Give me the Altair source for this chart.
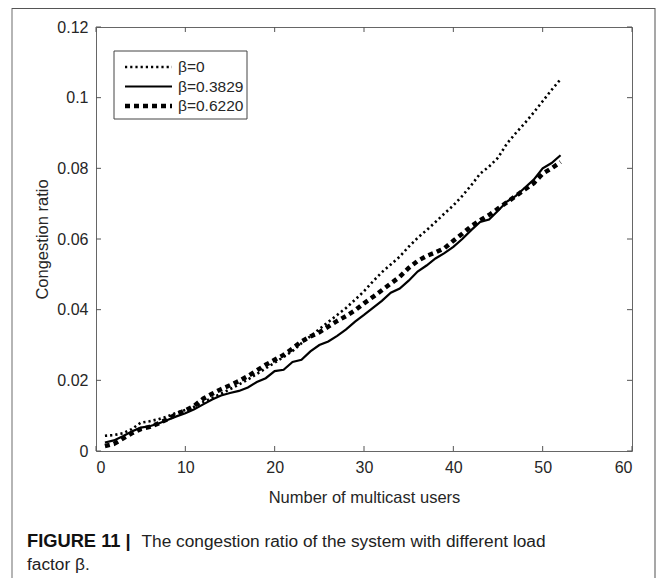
import altair as alt
import pandas as pd

# ---------------- data ----------------
users = list(range(1, 53))

beta_0 = [0.0043, 0.0045, 0.0050, 0.0062, 0.0080, 0.0084, 0.0090, 0.0098, 0.0108, 0.0116,
          0.0125, 0.0138, 0.0150, 0.0162, 0.0175, 0.0188, 0.0202, 0.0218, 0.0234, 0.0250,
          0.0266, 0.0283, 0.0305, 0.0325, 0.0345, 0.0365, 0.0385, 0.0405, 0.0428, 0.0452,
          0.0480, 0.0506, 0.0528, 0.0550, 0.0578, 0.0603, 0.0625, 0.0648, 0.0672, 0.0695,
          0.0722, 0.0752, 0.0785, 0.0805, 0.0830, 0.0870, 0.0900, 0.0928, 0.0958, 0.0990,
          0.1022, 0.1052]

beta_03829 = [0.0024, 0.0030, 0.0042, 0.0055, 0.0066, 0.0070, 0.0078, 0.0088, 0.0098, 0.0107,
              0.0118, 0.0132, 0.0146, 0.0157, 0.0164, 0.0170, 0.0180, 0.0195, 0.0206, 0.0226,
              0.0230, 0.0252, 0.0258, 0.0282, 0.0300, 0.0310, 0.0326, 0.0344, 0.0366, 0.0385,
              0.0405, 0.0425, 0.0448, 0.0460, 0.0482, 0.0508, 0.0525, 0.0545, 0.0560, 0.0578,
              0.0600, 0.0625, 0.0648, 0.0655, 0.0680, 0.0706, 0.0722, 0.0745, 0.0768, 0.0800,
              0.0815, 0.0837]

beta_06220 = [0.0014, 0.0020, 0.0035, 0.0050, 0.0062, 0.0068, 0.0078, 0.0090, 0.0104, 0.0115,
              0.0128, 0.0148, 0.0162, 0.0175, 0.0186, 0.0198, 0.0212, 0.0228, 0.0244, 0.0258,
              0.0272, 0.0290, 0.0310, 0.0324, 0.0336, 0.0352, 0.0368, 0.0382, 0.0398, 0.0418,
              0.0436, 0.0455, 0.0474, 0.0493, 0.0518, 0.0538, 0.0552, 0.0562, 0.0574, 0.0595,
              0.0615, 0.0636, 0.0653, 0.0668, 0.0686, 0.0704, 0.0722, 0.0740, 0.0758, 0.0785,
              0.0800, 0.0818]

series_names = ["β=0", "β=0.3829", "β=0.6220"]
x_ticks = [0, 10, 20, 30, 40, 50, 60]
y_ticks = [0, 0.02, 0.04, 0.06, 0.08, 0.1, 0.12]

x_title = "Number of multicast users"
y_title = "Congestion ratio"
caption_bold = "FIGURE 11 |"
caption_line1 = "The congestion ratio of the system with different load"
caption_line2 = "factor β."

# ---------------- build tables ----------------
rows = []
for name, vals in zip(series_names, [beta_0, beta_03829, beta_06220]):
    for u, v in zip(users, vals):
        rows.append({"users": u, "ratio": v, "series": name})
df = pd.DataFrame(rows)
xt = pd.DataFrame({"users": x_ticks})
yt = pd.DataFrame({"ratio": y_ticks})
one = pd.DataFrame({"a": [0]})

W, H = 536, 424
FONT = "Liberation Sans"
TXT = "#262626"

xs = alt.Scale(domain=[0, 60], nice=False)
ys = alt.Scale(domain=[0, 0.12], nice=False)

x_axis = alt.Axis(values=x_ticks, labelPadding=8, title=x_title,
                  titleY=46, titleBaseline="middle")
y_axis = alt.Axis(values=y_ticks, format=".3~g", labelPadding=8, title=y_title,
                  titleX=-54, titleBaseline="middle")
X = alt.X("users:Q", scale=xs, axis=x_axis)
Y = alt.Y("ratio:Q", scale=ys, axis=y_axis)

styles = {
    "β=0": dict(strokeDash=[2.2, 3], strokeWidth=2.6),
    "β=0.3829": dict(strokeWidth=2.2),
    "β=0.6220": dict(strokeDash=[5, 4], strokeWidth=4.5),
}

layers = []
for name in series_names:
    layers.append(
        alt.Chart(df).transform_filter(alt.datum.series == name)
        .mark_line(color="black", strokeCap="butt", **styles[name])
        .encode(x=X, y=Y)
    )

tick_col = "#555"
# inward ticks on all four sides
layers.append(alt.Chart(xt).mark_rule(color=tick_col, strokeWidth=1).encode(
    x=X, y=alt.value(H), y2=alt.value(H - 5)))
layers.append(alt.Chart(xt).mark_rule(color=tick_col, strokeWidth=1).encode(
    x=X, y=alt.value(0), y2=alt.value(5)))
layers.append(alt.Chart(yt).mark_rule(color=tick_col, strokeWidth=1).encode(
    y=Y, x=alt.value(0), x2=alt.value(5)))
layers.append(alt.Chart(yt).mark_rule(color=tick_col, strokeWidth=1).encode(
    y=Y, x=alt.value(W), x2=alt.value(W - 5)))

# legend box
layers.append(alt.Chart(one).mark_rect(fill="white", stroke="#444", strokeWidth=1).encode(
    x=alt.value(18), x2=alt.value(151), y=alt.value(24), y2=alt.value(92)))
leg_y = [40, 59.5, 79]
for name, ly in zip(series_names, leg_y):
    layers.append(alt.Chart(one).mark_rule(color="black", strokeCap="butt", **styles[name]).encode(
        x=alt.value(29), x2=alt.value(76), y=alt.value(ly)))
    layers.append(alt.Chart(pd.DataFrame({"s": [name]})).mark_text(
        align="left", baseline="middle", font=FONT, fontSize=15.5, color=TXT).encode(
        x=alt.value(82), y=alt.value(ly), text="s:N"))

# outer figure frame
layers.append(alt.Chart(one).mark_rule(color="#b5b5b5", strokeWidth=2).encode(
    x=alt.value(-84), y=alt.value(-19), y2=alt.value(560)))
layers.append(alt.Chart(one).mark_rule(color="#8a8a8a", strokeWidth=1.5).encode(
    x=alt.value(559), y=alt.value(-19), y2=alt.value(560)))
layers.append(alt.Chart(one).mark_rule(color="#555", strokeWidth=1).encode(
    x=alt.value(-84), x2=alt.value(559), y=alt.value(-18.5)))

# caption
layers.append(alt.Chart(pd.DataFrame({"s": [caption_bold]})).mark_text(
    align="left", baseline="alphabetic", font=FONT, fontSize=18.3, fontWeight="bold", color="#111").encode(
    x=alt.value(-69), y=alt.value(520), text="s:N"))
layers.append(alt.Chart(pd.DataFrame({"s": [caption_line1]})).mark_text(
    align="left", baseline="alphabetic", font=FONT, fontSize=17.3, color="#222").encode(
    x=alt.value(45.5), y=alt.value(520), text="s:N"))
layers.append(alt.Chart(pd.DataFrame({"s": [caption_line2]})).mark_text(
    align="left", baseline="alphabetic", font=FONT, fontSize=17.3, color="#222").encode(
    x=alt.value(-69), y=alt.value(543), text="s:N"))

chart = alt.layer(*layers).properties(
    width=W, height=H,
    autosize=alt.AutoSizeParams(type="none"),
    padding={"left": 88, "top": 19, "right": 24, "bottom": 127},
).configure_view(stroke="#666", strokeWidth=1).configure_axis(
    domain=False, ticks=False, grid=False,
    labelFont=FONT, labelFontSize=16, labelColor=TXT,
    titleFont=FONT, titleFontSize=16.5, titleFontWeight="normal", titleColor=TXT,
)

chart.save("out.html", embed_options={"renderer": "svg", "actions": False})
